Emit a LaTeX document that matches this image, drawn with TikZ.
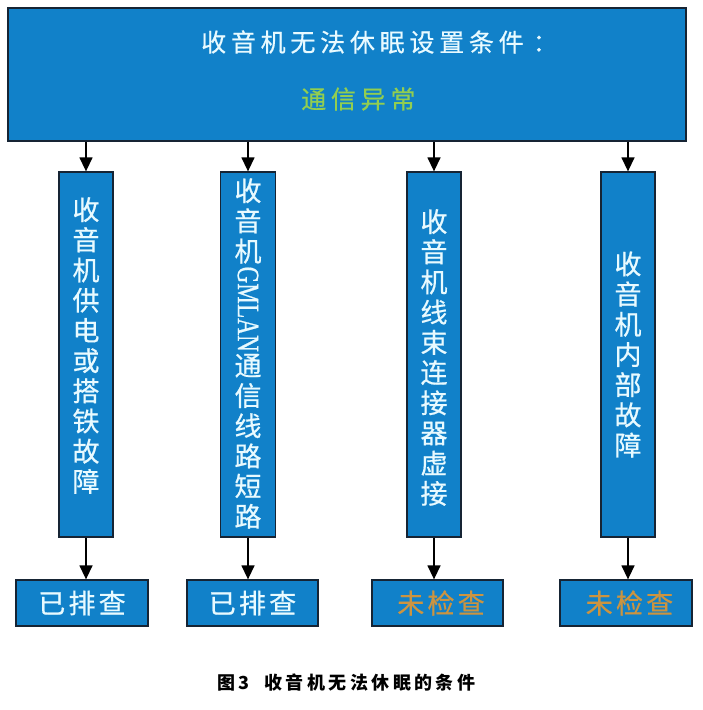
\documentclass[tikz,border=0pt]{standalone}
\usepackage{fontspec}
\usepackage{graphicx}
\usetikzlibrary{arrows.meta}
\newfontfamily\cjk[FakeBold=0.6]{Noto Sans CJK SC}
\newfontfamily\cjkT[LetterSpace=19,FakeBold=0.6]{Noto Sans CJK SC}
\newfontfamily\cjkB[LetterSpace=12,FakeBold=0.6]{Noto Sans CJK SC}
\newfontfamily\cjkC[LetterSpace=19]{Noto Sans CJK SC}
\newfontfamily\latinS[FakeBold=0.8]{Liberation Serif}
\definecolor{boxblue}{RGB}{17,129,201}
\definecolor{edge}{RGB}{22,36,52}
\definecolor{txtw}{RGB}{232,250,255}
\definecolor{txtg}{RGB}{146,206,80}
\definecolor{txto}{RGB}{204,148,64}
\begin{document}
\begin{tikzpicture}[x=1pt,y=-1pt,
  box/.style={draw=edge, line width=1.3pt, fill=boxblue, inner sep=0pt},
  topbox/.style={box, minimum width=678pt, minimum height=133pt},
  vbox/.style={box, minimum width=54pt, minimum height=365pt},
  rbox/.style={box, minimum width=131pt, minimum height=46pt},
  vtext/.style={align=center, text=txtw, inner sep=0pt,
    font={\cjk\fontsize{27pt}{30.2pt}\selectfont\lineskip=2pt\lineskiplimit=0pt}},
  rtext/.style={font={\cjkB\fontsize{27pt}{30pt}\selectfont}},
  ttext/.style={inner sep=0pt, anchor=west, font={\cjkT\fontsize{25pt}{28pt}\selectfont}},
  arr/.style={line width=1.4pt, draw=black, -{Triangle[length=14pt,width=13pt]}}]
\useasboundingbox (0,0) rectangle (702,710);
\fill[white] (0,0) rectangle (702,710);

% top box
\node[topbox] (top) at (347,74.5) {};
\node[ttext, text=txtw] (title) at (201,42) {收音机无法休眠设置条件\kern9pt：};
\node[ttext, text=txtg] (sub) at (301,99) {通信异常};

% vertical boxes
\node[vbox] (b1) at (86,354.5) {};
\node[vbox, minimum width=55pt] (b2) at (248,354.5) {};
\node[vbox] (b3) at (434,354.5) {};
\node[vbox] (b4) at (628,354.5) {};

\node[vtext] (t1) at ([yshift=9pt]b1.center) {收\\音\\机\\供\\电\\或\\搭\\铁\\故\\障};
\node[vtext] (t2) at ([yshift=1pt]b2.center) {收\\音\\机\\\raisebox{25pt}{\rotatebox{-90}{\scalebox{0.75}[1]{\latinS\fontsize{31pt}{33pt}\selectfont GMLAN}}}\\通\\信\\线\\路\\短\\路};
\node[vtext] (t3) at ([yshift=-3pt]b3.center) {收\\音\\机\\线\\束\\连\\接\\器\\虚\\接};
\node[vtext] (t4) at (b4.center) {收\\音\\机\\内\\部\\故\\障};

% result boxes
\node[rbox, minimum width=132pt, text=txtw, rtext] (c1) at (82,603) {已排查};
\node[rbox, text=txtw, rtext] (c2) at (252.5,603) {已排查};
\node[rbox, text=txto, rtext] (c3) at (437.5,603) {\hspace{7pt}未检查};
\node[rbox, minimum width=132pt, text=txto, rtext] (c4) at (626,603) {\hspace{7pt}未检查};

% arrows
\foreach \b/\c in {b1/c1,b2/c2,b3/c3,b4/c4}{
  \draw[arr] (\b.north |- top.south) -- (\b.north);
  \draw[arr] (\b.south) -- (\b.south |- \c.north);
}

% caption
\node[inner sep=0pt, anchor=west, font={\cjkC\bfseries\fontsize{18pt}{20pt}\selectfont}] (cap) at (217,683) {图3\hspace{15pt}收音机无法休眠的条件};
\end{tikzpicture}
\end{document}
